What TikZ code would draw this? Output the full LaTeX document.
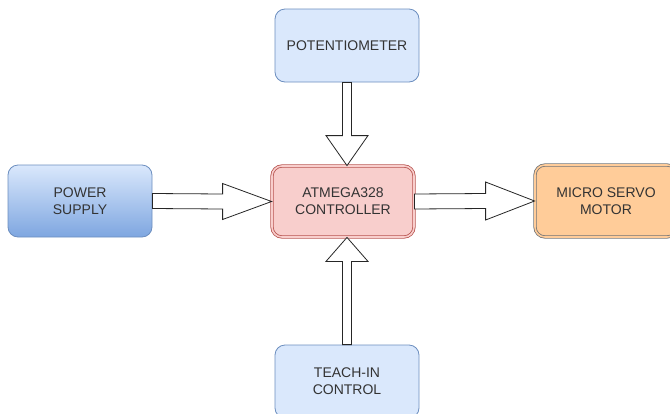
\documentclass[tikz,border=0pt]{standalone}
\usepackage{fontspec}
\setmainfont{Liberation Sans}
\usetikzlibrary{calc}
\definecolor{bluefill}{HTML}{DAE8FC}
\definecolor{bluedark}{HTML}{7EA6E0}
\definecolor{bluestroke}{HTML}{6C8EBF}
\definecolor{redfill}{HTML}{F8CECC}
\definecolor{redstroke}{HTML}{B85450}
\definecolor{orangefill}{HTML}{FFCC99}
\definecolor{graystroke}{HTML}{36393D}
\definecolor{txt}{HTML}{333333}
\tikzset{
  box/.style={rounded corners=10pt, minimum width=144pt, minimum height=72pt, align=center,
    font=\fontsize{14pt}{17pt}\selectfont, text=txt, line width=0.8pt, inner sep=0pt},
  bluebox/.style={box, draw=bluestroke, fill=bluefill},
  gradbox/.style={box, draw=bluestroke, top color=bluefill, bottom color=bluedark},
  redbox/.style={box, draw=redstroke, double=redfill, double distance=1.6pt, fill=redfill, minimum width=142pt, minimum height=71pt},
  orangebox/.style={box, draw=graystroke!70, double=orangefill, double distance=1.6pt, fill=orangefill, minimum width=142pt},
  fatarrow/.style={draw=black!85, fill=white, line width=0.8pt, line join=miter}
}
\begin{document}
\begin{tikzpicture}[x=1pt,y=-1pt]
\useasboundingbox (0,0) rectangle (670,413);
\clip (0,0) rectangle (670,413);
\node[gradbox] (ps) at (80,201) {POWER\\SUPPLY};
\node[redbox] (ctl) at (343,201.5) {ATMEGA328\\CONTROLLER};
\node[orangebox] (servo) at (606,201) {MICRO SERVO\\MOTOR};
\node[bluebox, minimum height=73pt] (pot) at (347,45.5) {POTENTIOMETER};
\node[bluebox, minimum height=73pt] (teach) at (347,381.5) {TEACH-IN\\CONTROL};
% power -> controller
\draw[fatarrow] ($(ps.east)+(0,-7.5)$) -- ($(ctl.west)+(-49,-7.5)$) -- ($(ctl.west)+(-49,-18)$)
  -- (ctl.west) -- ($(ctl.west)+(-49,18)$) -- ($(ctl.west)+(-49,7.5)$) -- ($(ps.east)+(0,7.5)$) -- cycle;
% controller -> servo
\draw[fatarrow] ($(ctl.east)+(0,-7.5)$) -- ($(servo.west)+(-49,-7.5)$) -- ($(servo.west)+(-49,-19)$)
  -- (servo.west) -- ($(servo.west)+(-49,19)$) -- ($(servo.west)+(-49,7.5)$) -- ($(ctl.east)+(0,7.5)$) -- cycle;
% potentiometer -> controller
\coordinate (ptip) at (pot.south |- ctl.north);
\draw[fatarrow] ($(pot.south)+(-4.5,0)$) -- ($(ptip)+(-4.5,-30)$) -- ($(ptip)+(-21,-30)$)
  -- (ptip) -- ($(ptip)+(21,-30)$) -- ($(ptip)+(4.5,-30)$) -- ($(pot.south)+(4.5,0)$) -- cycle;
% teach-in -> controller
\coordinate (ttip) at (teach.north |- ctl.south);
\draw[fatarrow] ($(teach.north)+(-4.5,0)$) -- ($(ttip)+(-4.5,24)$) -- ($(ttip)+(-21,24)$)
  -- (ttip) -- ($(ttip)+(21,24)$) -- ($(ttip)+(4.5,24)$) -- ($(teach.north)+(4.5,0)$) -- cycle;
\end{tikzpicture}
\end{document}
